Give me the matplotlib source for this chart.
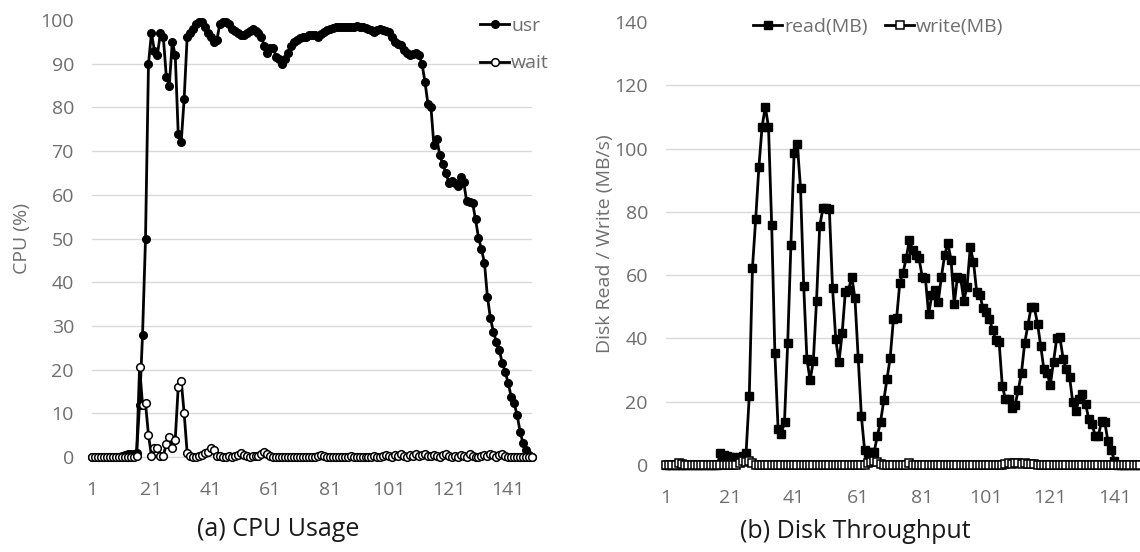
import matplotlib.pyplot as plt

plt.rcParams["font.family"] = ["Open Sans", "DejaVu Sans"]

# sample index (x axis of both panels)
samples = list(range(1, 150))
xtick_labels = [1, 21, 41, 61, 81, 101, 121, 141]

# (a) CPU usage, percent
usr = [
    0, 0, 0, 0, 0, 0, 0, 0, 0, 0,
    0.3, 0.5, 0.7, 0.8, 0.8, 1.0,
    12, 28, 50, 90, 97, 93, 92, 97, 96, 87, 85, 95, 92, 74, 72, 82, 96, 97,
    98, 99, 99.5, 99.5, 98.5, 97, 96, 95, 95.5, 99, 99.5, 99.5, 99, 98, 97.5, 97, 96.5, 96.5,
    97, 97.5, 98, 97.5, 97, 96, 94, 92.5, 93.5, 93.5, 91.5, 91, 90, 91, 92.5, 94, 95, 95.5,
    95.8, 96, 96.2, 96.5, 96.6, 96.5, 96.2, 96.8, 97.2, 97.6, 98, 98.2, 98.4, 98.5, 98.4, 98.5, 98.5, 98.3, 98.5, 98.6,
    98.5, 98.3, 98.2, 98, 97.6, 97.3, 97.6, 98, 97.8, 97.5, 97.3, 96.2, 95, 94.6, 94.3, 93.1, 92.5, 92, 92.3, 92.5,
    92, 90, 85.8, 80.8, 80.2, 71.3, 72.8, 69, 67, 65.1, 62.8, 63.2, 62.8, 62.1, 64, 63, 58.6, 58.4, 58.2, 54.4,
    50.2, 47.5, 44.5, 36.7, 31.8, 28.7, 26.4, 24.5, 21.5, 19.5, 16.9, 13.8, 12.3, 9.6, 5.8, 3.1, 1.6, 0.5, 0,
]
wait = [
    0, 0, 0, 0, 0, 0, 0, 0, 0, 0, 0, 0, 0, 0, 0, 0.2,
    20.5, 12, 12.3, 5, 0.3, 2, 2, 0.3, 0.3, 3, 4.5, 2, 4, 16, 17.5, 10, 1, 0.3,
    0, 0, 0.2, 0.5, 1, 1.2, 2, 1.6, 0.3, 0.2, 0, 0, 0.2, 0, 0.3, 0.5, 1, 0.5,
    0.2, 0, 0.2, 0.2, 0.3, 0.8, 1.2, 0.8, 0.3, 0, 0, 0, 0, 0, 0, 0, 0, 0,
    0, 0, 0, 0, 0, 0, 0.2, 0.5, 0.2, 0, 0, 0, 0, 0, 0, 0, 0, 0.2, 0, 0,
    0, 0, 0, 0, 0, 0.2, 0, 0, 0.3, 0.5, 0.3, 0, 0.4, 0.2, 0.6, 0.3, 0, 0.5, 0.3, 0.6,
    0.2, 0.5, 0.7, 0.3, 0.2, 0.5, 0.3, 0, 0.4, 0.7, 0.3, 0, 0.2, 0, 0.5, 0.3, 0, 0.6, 0.3, 0,
    0, 0.3, 0.5, 0.2, 0.6, 0.4, 0, 0.5, 0.7, 0.3, 0, 0, 0, 0, 0, 0, 0, 0, 0,
]

# (b) disk throughput, MB/s
read = [
    0, 0, 0, 0, 0, 0, 0, 0, 0, 0, 0, 0, 0, 0, 0, 0, 0,
    3.8, 3.2, 2.9, 2.6, 2.4, 2.0, 2.5, 2.9, 3.8, 21.8,
    62.4, 77.6, 94.1, 106.9, 113.2, 106.9, 75.8, 35.3, 11.4, 9.8,
    13.7, 38.6, 69.5, 98.5, 101.3, 87.6, 56.5, 33.4, 26.8, 32.9,
    51.9, 75.5, 81.1, 81.1, 80.9, 56.0, 39.8, 32.5, 41.6, 54.8,
    55.3, 59.5, 52.7, 33.9, 15.5, 4.8, 2.7, 4.2, 4.2, 9.2,
    13.7, 20.5, 27.2, 33.9, 46, 46.3, 57.6, 60.8, 65.3, 71.1,
    67.9, 66.3, 65.3, 59.5, 59, 47.6, 53.7, 55.3, 51.6, 59.5,
    66.3, 70.2, 64.9, 50.8, 59.5, 59, 51.9, 56.4, 68.8, 64.3,
    54.8, 53.7, 49.5, 48.4, 46, 42.6, 39.5, 39, 25, 20.8,
    20.8, 18.1, 19, 23.7, 29.2, 38.6, 44.2, 49.8, 49.8, 44.7,
    37.6, 30.2, 29, 25.3, 32.6, 40, 40.3, 33.6, 30.2, 27.9,
    19.9, 17.2, 20.9, 22.5, 19.3, 14.6, 13, 9.3, 9.3, 13.8,
    13.5, 7.5, 4.8, 1.4,
    0, 0, 0, 0, 0, 0, 0, 0,
]
write = [
    0, 0, 0, 0, 0.5, 0.3, 0, 0, 0, 0, 0, 0, 0, 0, 0, 0, 0, 0, 0, 0,
    0, 0, 0, 0.5, 1.2, 0.8, 1.3, 0.5, 0, 0, 0, 0, 0, 0, 0, 0, 0, 0, 0, 0,
    0, 0, 0, 0, 0, 0, 0, 0, 0, 0, 0, 0, 0, 0, 0, 0, 0, 0, 0, 0,
    0, 0, 0, 0.6, 1.0, 1.2, 0.8, 0.4, 0, 0, 0, 0, 0, 0, 0, 0, 0.5, 0, 0, 0,
    0, 0, 0, 0, 0, 0, 0, 0, 0, 0, 0, 0, 0, 0, 0, 0, 0, 0, 0, 0,
    0, 0, 0, 0, 0, 0, 0.4, 0.6, 0.4, 0.7, 0.5, 0.3, 0.6, 0.4, 0.3, 0.3, 0, 0, 0, 0,
    0, 0, 0, 0, 0, 0, 0, 0, 0, 0, 0, 0, 0, 0, 0, 0, 0, 0, 0, 0,
    0, 0, 0, 0, 0, 0, 0, 0, 0,
]

TICK = "#6e6e6e"
GRID = "#d9d9d9"
W, H = 1140, 552

fig = plt.figure(figsize=(11.4, 5.52), dpi=100)
ax1 = fig.add_axes([92 / W, 95 / H, 440 / W, 437 / H])
ax2 = fig.add_axes([666 / W, 87 / H, 474 / W, 443 / H])


def style_axis(ax, ymax, ystep):
    ax.set_xlim(1, len(samples))
    ax.set_ylim(0, ymax)
    ax.set_xticks(xtick_labels)
    ax.set_yticks(range(0, ymax + 1, ystep))
    ax.tick_params(length=0, labelsize=14, colors=TICK)
    ax.tick_params(axis="y", pad=13)
    ax.tick_params(axis="x", pad=17)
    ax.grid(axis="y", color=GRID, lw=1)
    ax.get_ygridlines()[-1].set_visible(False)
    ax.set_axisbelow(True)
    for side in ["top", "right", "left"]:
        ax.spines[side].set_visible(False)
    ax.spines["bottom"].set_color(GRID)


style_axis(ax1, 100, 10)
ax1.plot(samples, usr, color="black", lw=2.0, marker="o", ms=5.5,
         mfc="black", mec="black", clip_on=False, zorder=3, label="usr")
ax1.plot(samples, wait, color="black", lw=2.0, marker="o", ms=5.5,
         mfc="white", mec="black", mew=1.1, clip_on=False, zorder=4, label="wait")
ax1.set_ylabel("CPU (%)", fontsize=14, color=TICK, va="center")
ax1.yaxis.set_label_coords((22 - 92) / 440, 0.5)
ax1.legend(loc="upper left", bbox_to_anchor=(480 / W, 1 - 17 / H),
           bbox_transform=fig.transFigure, frameon=False, borderpad=0,
           borderaxespad=0, handlelength=1.5, handletextpad=0.1,
           labelspacing=1.0, fontsize=14, labelcolor=TICK)

style_axis(ax2, 140, 20)
ax2.plot(samples, read, color="black", lw=2.0, marker="s", ms=6,
         mfc="black", mec="black", clip_on=False, zorder=3, label="read(MB)")
ax2.plot(samples, write, color="black", lw=2.0, marker="s", ms=6,
         mfc="white", mec="black", mew=1.1, clip_on=False, zorder=4, label="write(MB)")
ax2.set_ylabel("Disk Read / Write (MB/s)", fontsize=14, color=TICK, va="center")
ax2.yaxis.set_label_coords((605 - 666) / 474, 0.5)
ax2.legend(loc="upper left", bbox_to_anchor=(753 / W, 1 - 18 / H),
           bbox_transform=fig.transFigure, frameon=False, borderpad=0,
           borderaxespad=0, ncol=2, handlelength=1.5, handletextpad=0.1,
           columnspacing=0.9, fontsize=14, labelcolor=TICK)

fig.text(278 / W, 1 - 529 / H, "(a) CPU Usage", ha="center", va="center",
         fontsize=18, color="#1a1a1a")
fig.text(855 / W, 1 - 531 / H, "(b) Disk Throughput", ha="center", va="center",
         fontsize=18, color="#1a1a1a")

fig.savefig("out.png", dpi=100)
